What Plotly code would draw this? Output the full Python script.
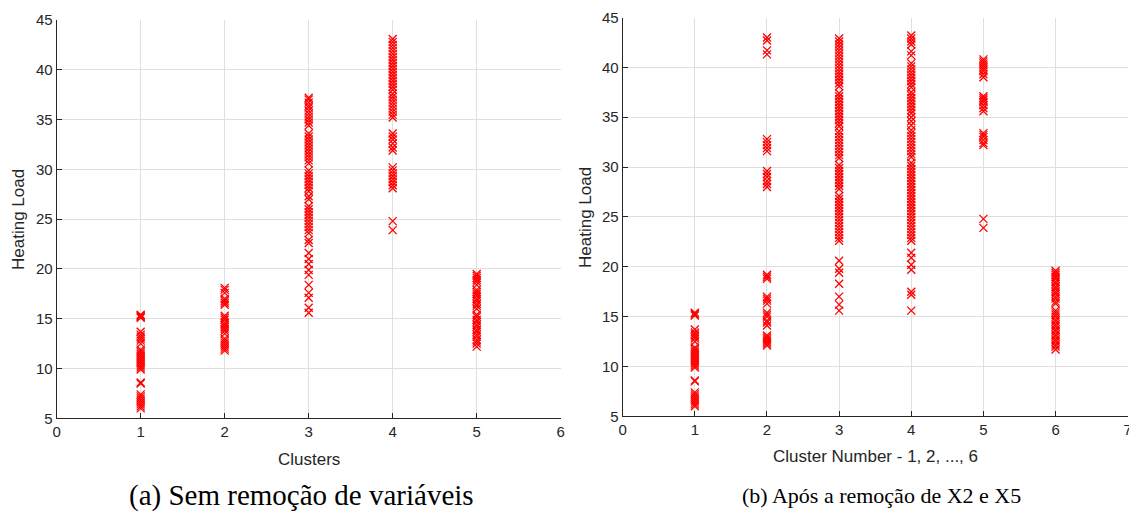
import plotly.graph_objects as go

# ---------------- data ----------------
# (a) Sem remoção de variáveis : clusters 1..5
a_c1 = [15.4, 15.3, 15.2, 15.1, 13.7, 13.4, 13.2, 13.0, 12.8, 12.5, 11.9, 11.7, 11.5, 11.3,
        11.1, 10.9, 10.7, 10.5, 10.3, 10.1, 9.9, 8.6, 8.5, 7.4, 7.2, 7.0, 6.8, 6.6, 6.4, 6.2, 6.0]
a_c2 = [18.1, 17.9, 17.6, 17.0, 16.8, 16.6, 16.4, 15.3, 15.1, 14.9, 14.6, 14.4, 14.2, 14.0,
        13.8, 13.5, 13.0, 12.8, 12.6, 12.4, 12.2, 12.0, 11.8]
a_c3 = [37.2, 37.0, 36.7, 36.4, 36.2, 35.9, 35.6, 35.3, 35.0, 34.7, 34.4, 33.6, 33.3, 33.0,
        32.7, 32.4, 32.1, 31.8, 31.5, 31.2, 30.9, 30.6, 29.9, 29.6, 29.3, 29.0, 28.7, 28.4,
        28.1, 27.8, 27.3, 27.0, 26.3, 26.0, 25.7, 25.4, 25.1, 24.8, 24.5, 24.2, 23.9, 23.6,
        22.9, 22.6, 21.6, 21.0, 20.5, 19.9, 19.4, 18.4, 17.6, 17.1, 16.1, 15.6]
a_c4 = [43.1, 42.8, 42.5, 42.2, 41.9, 41.6, 41.3, 41.0, 40.7, 40.4, 40.1, 39.8, 39.5, 39.2,
        38.9, 38.6, 38.3, 38.0, 37.6, 37.3, 37.0, 36.7, 36.4, 36.1, 35.8, 35.5, 35.2, 33.6,
        33.3, 33.0, 32.6, 32.2, 31.9, 30.2, 29.9, 29.6, 29.3, 29.0, 28.7, 28.4, 28.1, 24.8, 23.9]
a_c5 = [19.5, 19.3, 19.1, 18.9, 18.7, 18.4, 17.9, 17.7, 17.5, 17.3, 17.0, 16.8, 16.5, 16.3,
        16.0, 15.4, 15.2, 14.9, 14.7, 14.4, 14.2, 13.9, 13.7, 13.4, 13.2, 12.9, 12.7, 12.5, 12.2]

# (b) Após a remoção de X2 e X5 : clusters 1..6
b_c1 = [15.4, 15.3, 15.2, 15.1, 13.7, 13.4, 13.2, 13.0, 12.8, 12.5, 11.9, 11.7, 11.5, 11.3,
        11.1, 10.9, 10.7, 10.5, 10.3, 10.1, 9.9, 8.6, 8.5, 7.4, 7.2, 7.0, 6.8, 6.6, 6.4, 6.2, 6.0]
b_c2 = [43.0, 42.7, 41.7, 41.3, 32.8, 32.5, 32.2, 31.9, 31.6, 29.6, 29.3, 29.0, 28.6, 28.3,
        28.0, 19.2, 19.0, 18.8, 17.0, 16.8, 16.6, 16.3, 15.4, 15.2, 15.0, 14.6, 14.4, 14.1,
        13.1, 12.9, 12.7, 12.5, 12.3, 12.1]
b_c3 = [42.9, 42.6, 42.3, 42.0, 41.7, 41.4, 41.1, 40.8, 40.5, 40.2, 39.9, 39.6, 39.3, 39.0,
        38.7, 38.4, 38.1, 37.4, 37.1, 36.8, 36.5, 36.2, 35.9, 35.6, 35.3, 35.0, 34.7, 34.4,
        34.1, 33.6, 33.3, 33.0, 32.7, 32.4, 32.1, 31.8, 31.5, 31.2, 30.9, 30.2, 29.9, 29.6,
        29.3, 29.0, 28.7, 28.4, 28.1, 27.8, 27.1, 26.8, 26.5, 26.2, 25.9, 25.6, 25.3, 25.0,
        24.7, 24.4, 24.1, 23.8, 23.5, 23.2, 22.9, 22.6, 20.6, 19.8, 19.4, 18.3, 17.0, 16.2, 15.6]
b_c4 = [43.2, 42.9, 42.6, 42.3, 41.6, 41.2, 40.4, 40.1, 39.8, 39.5, 39.2, 38.9, 38.6, 38.3,
        38.0, 37.5, 37.2, 36.9, 36.6, 36.3, 36.0, 35.7, 35.4, 35.0, 34.6, 34.2, 33.7, 33.4,
        33.1, 32.8, 32.5, 32.2, 31.9, 31.6, 31.3, 31.0, 30.4, 30.1, 29.8, 29.5, 29.2, 28.9,
        28.6, 28.3, 28.0, 27.7, 27.4, 27.1, 26.8, 26.5, 26.2, 25.9, 25.6, 25.3, 25.0, 24.7,
        24.4, 24.1, 23.8, 23.5, 23.2, 22.9, 22.6, 21.4, 20.9, 20.2, 19.7, 17.5, 17.2, 15.6]
b_c5 = [40.8, 40.6, 40.4, 40.2, 40.0, 39.8, 39.6, 39.3, 39.0, 37.1, 36.9, 36.7, 36.5, 36.2,
        35.9, 35.6, 33.4, 33.2, 33.0, 32.7, 32.4, 32.2, 24.8, 23.9]
b_c6 = [19.6, 19.4, 19.2, 19.0, 18.8, 18.5, 18.3, 18.0, 17.8, 17.5, 17.3, 17.0, 16.8, 16.5,
        16.3, 15.6, 15.4, 15.2, 15.0, 14.7, 14.5, 14.2, 14.0, 13.7, 13.5, 13.2, 13.0, 12.7,
        12.5, 12.2, 12.0, 11.7]

a_clusters = [a_c1, a_c2, a_c3, a_c4, a_c5]
b_clusters = [b_c1, b_c2, b_c3, b_c4, b_c5, b_c6]

a_xlabel = "Clusters"
b_xlabel = "Cluster Number - 1, 2, ..., 6"
ylabel = "Heating Load"
caption_a = "(a) Sem remoção de variáveis"
caption_b = "(b) Após a remoção de X2 e X5"

# ---------------- figure ----------------
W, H = 1129, 512
RED = "rgb(255,0,0)"
marker = dict(symbol="x-thin", size=8, color=RED, line=dict(color=RED, width=1.3))

fig = go.Figure()


def add_cluster_points(clusters, xaxis, yaxis):
    xs, ys = [], []
    for k, vals in enumerate(clusters, start=1):
        xs += [k] * len(vals)
        ys += vals
    fig.add_trace(go.Scatter(x=xs, y=ys, mode="markers", marker=marker,
                             xaxis=xaxis, yaxis=yaxis, showlegend=False,
                             cliponaxis=False))


add_cluster_points(a_clusters, "x", "y")
add_cluster_points(b_clusters, "x2", "y2")

AX = "#262626"
GRID = "rgb(223,223,223)"
TICKFONT = dict(family="Liberation Sans, Arial, sans-serif", size=15, color=AX)

common = dict(showline=True, linecolor=AX, linewidth=1, mirror=False,
              ticks="inside", ticklen=5, tickcolor=AX, tickwidth=1,
              showgrid=True, gridcolor=GRID, gridwidth=1, zeroline=False,
              tickfont=TICKFONT, automargin=False, ticklabeloverflow="allow")

fig.update_layout(
    width=W, height=H,
    margin=dict(l=0, r=0, t=0, b=0, pad=0, autoexpand=False),
    paper_bgcolor="white", plot_bgcolor="white",
    xaxis=dict(domain=[56.7 / W, 560.7 / W], range=[0, 6], dtick=1, tick0=0,
               anchor="y", **common),
    yaxis=dict(domain=[1 - 418.3 / H, 1 - 20 / H], range=[5, 45], dtick=5, tick0=5,
               anchor="x", **common),
    xaxis2=dict(domain=[622.7 / W, 1127.7 / W], range=[0, 7], dtick=1, tick0=0,
                anchor="y2", **common),
    yaxis2=dict(domain=[1 - 416.3 / H, 1 - 17.5 / H], range=[5, 45], dtick=5, tick0=5,
                anchor="x2", **common),
)

LABELFONT = dict(family="Liberation Sans, Arial, sans-serif", size=17, color=AX)
CAPFONT_A = dict(family="Liberation Serif, Times New Roman, serif", size=29, color="black")
CAPFONT_B = dict(family="Liberation Serif, Times New Roman, serif", size=22, color="black")

ann = [
    dict(text=a_xlabel, x=308.5 / W, y=1 - 459 / H, font=LABELFONT),
    dict(text=b_xlabel, x=875 / W, y=1 - 456 / H, font=LABELFONT),
    dict(text=ylabel, x=18 / W, y=1 - 220 / H, textangle=-90, font=LABELFONT),
    dict(text=ylabel, x=585 / W, y=1 - 218 / H, textangle=-90, font=LABELFONT),
    dict(text=caption_a, x=301 / W, y=1 - 495 / H, font=CAPFONT_A),
    dict(text=caption_b, x=881 / W, y=1 - 495 / H, font=CAPFONT_B),
]
for a in ann:
    fig.add_annotation(xref="paper", yref="paper", showarrow=False,
                       xanchor="center", yanchor="middle", **a)

fig.write_html("out.html")
